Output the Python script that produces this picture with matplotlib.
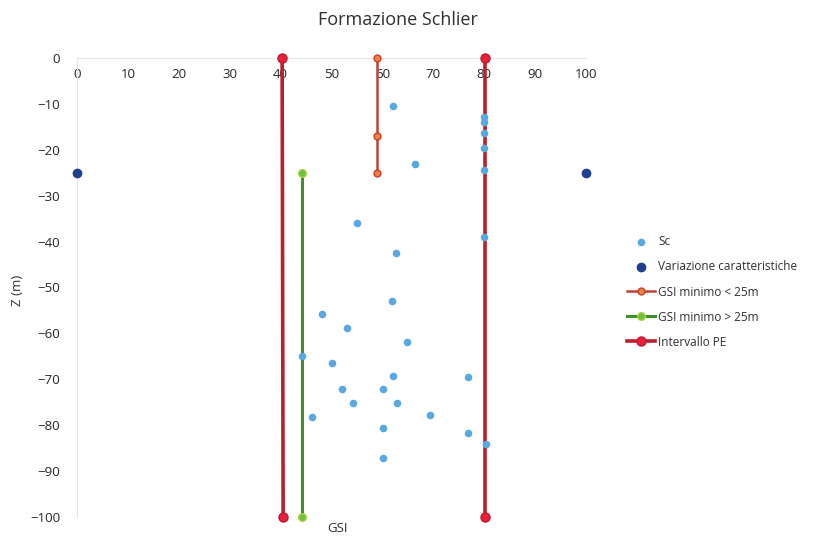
import matplotlib
matplotlib.use("Agg")
import matplotlib.pyplot as plt

plt.rcParams['font.family'] = ['Open Sans', 'DejaVu Sans']

# Sc points (GSI, Z)
sc_gsi = [62, 66.5, 55, 80, 80, 80, 80, 80, 80, 62.7, 61.9, 48.1, 53, 64.9, 44.3, 50.1,
          62, 52, 60.1, 54.2, 62.8, 46.2, 60.1, 60.1, 76.8, 69.4, 76.8, 80.4]
sc_z = [-10.5, -23, -36, -12.8, -14, -16.4, -19.6, -24.4, -39, -42.5, -52.9, -55.8, -58.8, -61.8,
        -64.9, -66.5, -69.3, -72.1, -72.1, -75.2, -75.2, -78.3, -80.6, -87.2, -69.5, -77.8,
        -81.7, -84.1]

var_gsi = [0, 100]
var_z = [-25, -25]

gsi_min_lt25_x = [59, 59, 59]
gsi_min_lt25_z = [0, -17, -25]

gsi_min_gt25_x = [44.3, 44.3]
gsi_min_gt25_z = [-25, -100]

pe_low_x = [40.3, 40.5]
pe_high_x = [80.2, 80.2]
pe_z = [0, -100]

xticks = list(range(0, 101, 10))
yticks = list(range(0, -101, -10))

fig = plt.figure(figsize=(8.2, 5.37), dpi=100)
ax = fig.add_axes([77 / 820, 1 - 517 / 537, 509 / 820, 459 / 537])

ax.plot(pe_low_x, pe_z, color='#b8202c', lw=2.6, marker='o', ms=6.5,
        mfc='#e8203c', mec='#c01830', zorder=3, clip_on=False, label='Intervallo PE')
ax.plot(pe_high_x, pe_z, color='#b8202c', lw=2.6, marker='o', ms=6.5,
        mfc='#e8203c', mec='#c01830', zorder=3, clip_on=False)
ax.plot(gsi_min_lt25_x, gsi_min_lt25_z, color='#c0403a', lw=1.8, marker='o', ms=5,
        mfc='#f08040', mec='#c8402a', zorder=3, clip_on=False, label='GSI minimo < 25m')
ax.plot(gsi_min_gt25_x, gsi_min_gt25_z, color='#3f8f2a', lw=2.2, marker='o', ms=5.5,
        mfc='#70c040', mec='#a8d040', zorder=3, clip_on=False, label='GSI minimo > 25m')
ax.scatter(sc_gsi, sc_z, s=20, color='#5aa8e0', zorder=4, clip_on=False, label='Sc')
ax.scatter(var_gsi, var_z, s=36, color='#1f3f90', zorder=4, clip_on=False,
           label='Variazione caratteristiche')

ax.set_xlim(0, 100)
ax.set_ylim(-100, 0)
ax.set_xticks(xticks)
ax.set_yticks(yticks)
for s in ['top', 'right']:
    ax.spines[s].set_visible(False)
ax.spines['bottom'].set_position(('data', 0))
ax.spines['bottom'].set_color('#e4e4e4')
ax.spines['left'].set_color('#e4e4e4')
ax.tick_params(axis='both', length=0, labelsize=9.5, labelcolor='#252525')
ax.tick_params(axis='x', pad=7)
ax.tick_params(axis='y', pad=12)

fig.text(398 / 820, 1 - 20 / 537, 'Formazione Schlier', ha='center', va='center',
         fontsize=13, color='#303030')
fig.text(18 / 820, 1 - 290 / 537, 'Z (m)', ha='center', va='center', rotation=90,
         fontsize=9.5, color='#303030')
fig.text(338 / 820, 1 - 528 / 537, 'GSI', ha='center', va='center',
         fontsize=9.5, color='#303030')

h, l = ax.get_legend_handles_labels()
order = [l.index(n) for n in ['Sc', 'Variazione caratteristiche', 'GSI minimo < 25m',
                               'GSI minimo > 25m', 'Intervallo PE']]
ax.legend([h[i] for i in order], [l[i] for i in order], loc='center left',
          bbox_to_anchor=(616 / 820, 1 - 292 / 537), bbox_transform=fig.transFigure,
          frameon=False, fontsize=8.5, handlelength=2.4, handletextpad=0.3,
          labelspacing=1.02, labelcolor='#303030')

fig.savefig('out.png', dpi=100)
